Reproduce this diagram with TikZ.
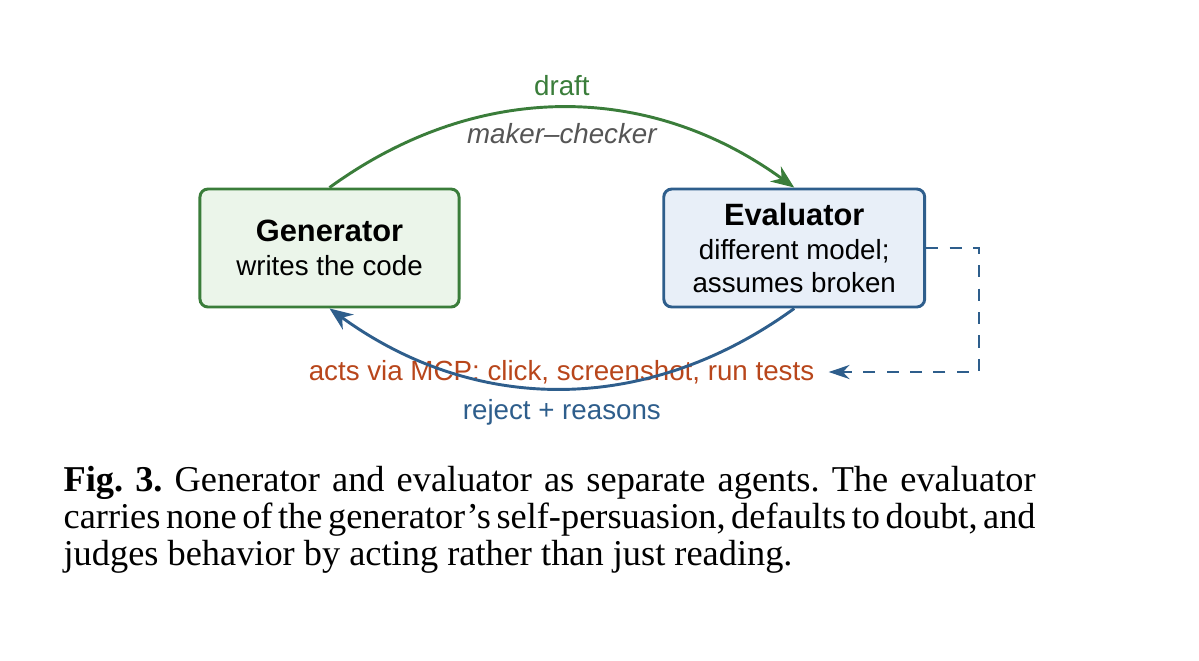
\documentclass[tikz,border=0pt]{standalone}
\usepackage{fontspec}
\setmainfont{Liberation Serif}
\setsansfont{Liberation Sans}
\usepackage{tikz}
\usetikzlibrary{positioning,arrows.meta}
\definecolor{verde}{HTML}{3A7D3A}
\definecolor{verdefond}{HTML}{EBF5EA}
\definecolor{albastru}{HTML}{2E5E8C}
\definecolor{albastrufond}{HTML}{E8EFF8}
\definecolor{portocaliu}{HTML}{B8461B}
\definecolor{gri}{HTML}{555555}
\newcommand{\titlu}[1]{{\bfseries\fontsize{10}{12}\selectfont #1}}
\tikzset{
  agent/.style      = {draw, rounded corners=2.6pt, align=center, inner sep=2pt,
                       line width=0.95pt, minimum height=38.3pt,
                       font=\sffamily\fontsize{9}{11}\selectfont},
  agentgen/.style   = {agent, draw=verde, fill=verdefond, minimum width=84.1pt},
  agenteval/.style  = {agent, draw=albastru, fill=albastrufond, minimum width=84.7pt},
  eticheta/.style   = {font=\sffamily\fontsize{9}{11}\selectfont, inner sep=2pt},
  sageata/.style    = {-{Stealth[length=7.5pt, width=6pt]}, line width=0.95pt},
  punctat/.style    = {-{Stealth[length=6.8pt, width=4.6pt]}, line width=0.6pt,
                       albastru, dash pattern=on 3.9pt off 3.7pt}
}

\begin{document}
\begin{tikzpicture}[x=0.3246pt, y=-0.3246pt, node distance=4mm and 65.5pt]
  \useasboundingbox (0,0) rectangle (1199,660);

  % cei doi agenti
  \node[agentgen] (generator) at (329.5,248) {\titlu{Generator}\\ writes the code};
  \node[agenteval, right=of generator] (evaluator) {\titlu{Evaluator}\\ different model;\\ assumes broken};

  % actiuni prin MCP
  \node[eticheta, text=portocaliu, inner sep=4.5pt] (mcp) at (561.5,372) {acts via MCP: click, screenshot, run tests};

  \draw[sageata, verde] (generator.north) to[bend left=36]
      node[eticheta, above=1.5pt, text=verde] (draft) {draft}
      node[eticheta, below=2.5pt, text=gri, font=\sffamily\itshape\fontsize{9}{11}\selectfont] (maker) {maker–checker}
      (evaluator.north);
  \draw[sageata, albastru] (evaluator.south) to[bend left=36]
      node[eticheta, below=1pt, text=albastru] (respins) {reject + reasons}
      (generator.south);
  \draw[punctat] (evaluator.east) -- ++(53,0) |- (mcp.east);

  % legenda
  \node[anchor=north west, inner sep=0pt, text width=315.5pt, align=justify,
        font=\fontsize{11.8}{12}\selectfont\frenchspacing] (legenda) at (63,466)
      {\noindent\textbf{Fig. 3.} Generator and evaluator as separate agents. The evaluator\linebreak
       {\spaceskip=1.9pt plus 1pt minus 0.4pt carries none of the generator’s self-persuasion, defaults to doubt, and}\linebreak
       judges behavior by acting rather than just reading.};
\end{tikzpicture}
\end{document}
